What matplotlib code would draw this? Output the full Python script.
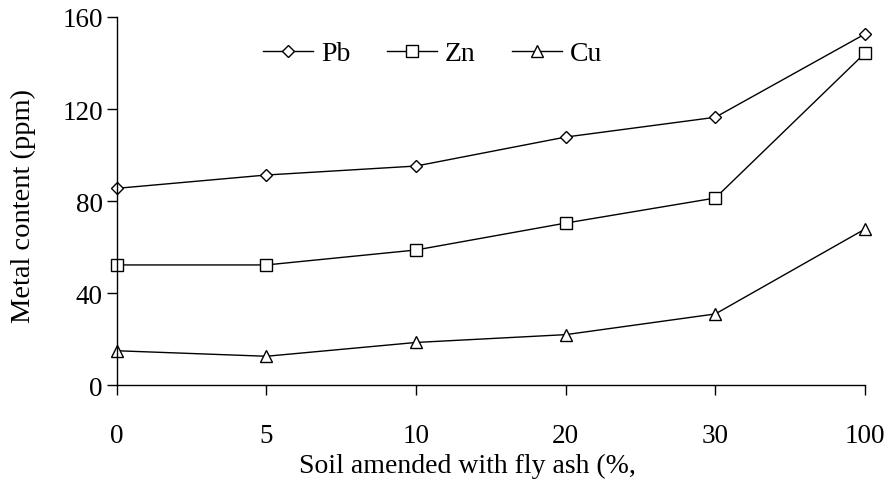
import matplotlib.pyplot as plt

plt.rcParams['font.family'] = ['Liberation Serif', 'DejaVu Serif']

# fly ash share in soil (%), plotted as equally spaced categories
ash_levels = ['0', '5', '10', '20', '30', '100']
pb = [85.5, 91.3, 95.2, 107.8, 116.4, 152.6]
zn = [52.2, 52.2, 58.7, 70.4, 81.3, 144.3]
cu = [14.9, 12.5, 18.5, 21.9, 30.9, 67.8]

x = range(len(ash_levels))

fig = plt.figure(figsize=(8.92, 4.89), dpi=100)
ax = fig.add_axes([0.1308, 0.2106, 0.8389, 0.7526])

style = dict(color='black', linewidth=1.0, markerfacecolor='white',
             markeredgecolor='black', markeredgewidth=1.0, clip_on=False)
ax.plot(x, pb, marker='D', markersize=6.5, label='Pb', **style)
ax.plot(x, zn, marker='s', markersize=8, label='Zn', **style)
ax.plot(x, cu, marker='^', markersize=8, label='Cu', **style)

ax.set_xlim(0, len(ash_levels) - 1)
ax.set_ylim(0, 160)
ax.set_yticks([0, 40, 80, 120, 160])
ax.set_xticks(list(x))
ax.set_xticklabels(ash_levels)

for side in ['top', 'right']:
    ax.spines[side].set_visible(False)
for side in ['left', 'bottom']:
    ax.spines[side].set_linewidth(1.0)

ax.tick_params(axis='both', direction='out', length=7, width=1.0,
               labelsize=19.5, colors='black')
ax.tick_params(axis='x', pad=20)
ax.tick_params(axis='y', pad=3)

ax.set_xlabel('Soil amended with fly ash (%,', fontsize=20)
ax.xaxis.set_label_coords(0.469, -0.185)
ax.set_ylabel('Metal content (ppm)', fontsize=20.5)
ax.yaxis.set_label_coords(-0.108, 0.49)

ax.legend(loc='center left', bbox_to_anchor=(0.295, 0.888),
          bbox_transform=fig.transFigure, ncol=3, frameon=False,
          fontsize=20, handlelength=1.8, handletextpad=0.29,
          columnspacing=1.3, borderaxespad=0, borderpad=0)

fig.savefig('out.png', dpi=100)
